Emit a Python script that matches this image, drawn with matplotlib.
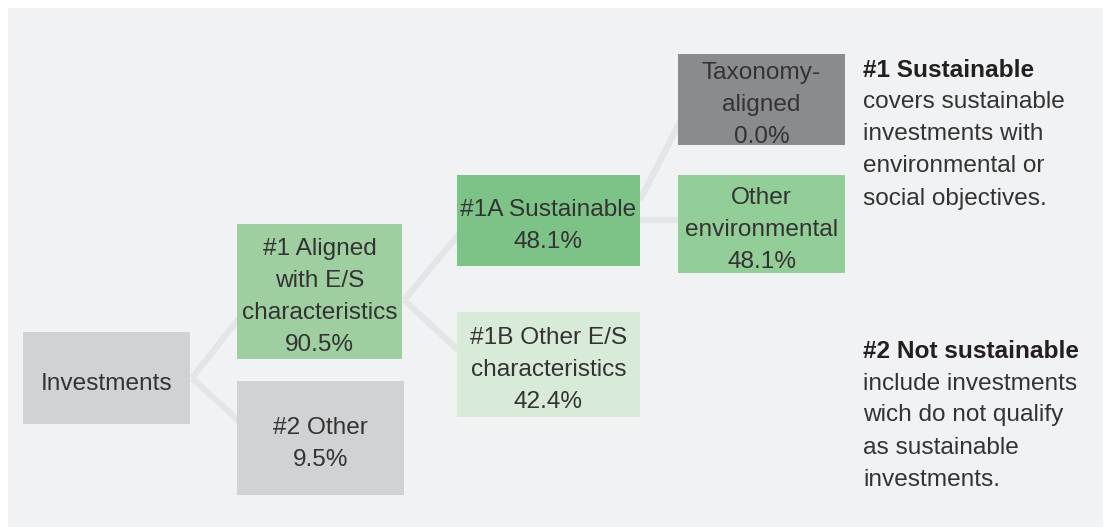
import matplotlib
matplotlib.use("Agg")
import matplotlib.pyplot as plt
from matplotlib.patches import Rectangle

plt.rcParams['font.family'] = ['Liberation Sans', 'DejaVu Sans']

# ---- data ----
node_names = ["Investments", "#1 Aligned\nwith E/S\ncharacteristics", "#2 Other",
              "#1A Sustainable", "#1B Other E/S\ncharacteristics",
              "Taxonomy-\naligned", "Other\nenvironmental"]
node_values = [None, 90.5, 9.5, 48.1, 42.4, 0.0, 48.1]
edges = [(0, 1), (0, 2), (1, 3), (1, 4), (3, 5), (3, 6)]
note_titles = ["#1 Sustainable", "#2 Not sustainable"]
note_bodies = ["covers sustainable\ninvestments with\nenvironmental or\nsocial objectives.",
               "include investments\nwich do not qualify\nas sustainable\ninvestments."]

# ---- layout (pixels: x0, y0, x1, y1) ----
boxes = [(23, 332, 190, 424), (237, 224, 402, 359), (237, 381, 404, 495),
         (457, 175, 640, 266), (457, 312, 640, 417),
         (678, 54, 845, 145), (678, 175, 845, 273)]
colors = ["#d1d2d4", "#9fcfa1", "#d1d2d4", "#7dc388", "#d8ebd8", "#8a8b8f", "#93cd98"]
anchors = {(0, 1): ((192, 378), (240, 317)), (0, 2): ((192, 378), (240, 422)),
           (1, 3): ((404, 300), (460, 233)), (1, 4): ((404, 300), (460, 352)),
           (3, 5): ((640, 200), (681, 120)), (3, 6): ((640, 220), (681, 220))}
LINE = 32
FS = 17.6
TXT = '#333333'

W, H = 1107, 528
fig = plt.figure(figsize=(W / 100, H / 100), dpi=100)
ax = fig.add_axes([0, 0, 1, 1])
ax.set_xlim(0, W)
ax.set_ylim(H, 0)
ax.axis('off')
fig.patch.set_facecolor('white')

ax.add_patch(Rectangle((8, 8), 1103 - 8, 527 - 8, facecolor='#f1f2f4', edgecolor='none', zorder=0))

for e in edges:
    (x0, y0), (x1, y1) = anchors[e]
    ax.plot([x0, x1], [y0, y1], color='#e4e5e7', lw=4.5, solid_capstyle='butt', zorder=1)

for i, (name, val) in enumerate(zip(node_names, node_values)):
    x0, y0, x1, y1 = boxes[i]
    ax.add_patch(Rectangle((x0, y0), x1 - x0, y1 - y0, facecolor=colors[i], edgecolor='none', zorder=2))
    label = name if val is None else f"{name}\n{val:.1f}%"
    lines = label.split("\n")
    cy = (y0 + y1) / 2 + 3
    n = len(lines)
    for k, ln in enumerate(lines):
        y = cy + (k - (n - 1) / 2) * LINE
        ax.text((x0 + x1) / 2, y, ln, ha='center', va='center_baseline',
                fontsize=FS, color=TXT, zorder=3)

note_y = [68, 349]
for t, b, y in zip(note_titles, note_bodies, note_y):
    ax.text(863, y, t, ha='left', va='center_baseline', fontsize=FS, fontweight='bold', color='#231f20')
    for k, ln in enumerate(b.split("\n")):
        ax.text(863, y + LINE * (k + 1), ln, ha='left', va='center_baseline', fontsize=FS, color=TXT)

fig.savefig('out.png', dpi=100, facecolor='white')
